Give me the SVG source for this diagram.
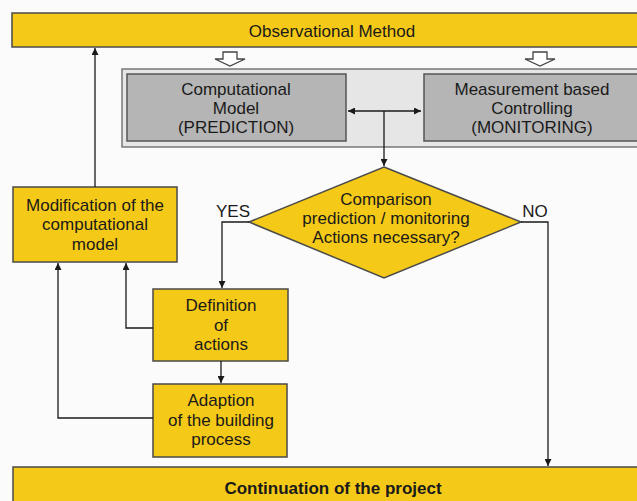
<svg xmlns="http://www.w3.org/2000/svg" width="637" height="501" viewBox="0 0 637 501">
<defs>
<style>
.y{fill:#f5c917;stroke:#4a4a4a;stroke-width:1.5}
.g{fill:#b5b5b5;stroke:#555;stroke-width:1.5}
.t{font-family:"Liberation Sans",Arial,sans-serif;font-size:17px;fill:#1a1a1a;text-anchor:middle}
.c{fill:none;stroke:#1a1a1a;stroke-width:1.3}
.h{fill:#fff;stroke:#444;stroke-width:1.3}
</style>
<marker id="a" viewBox="0 0 10 10" refX="10" refY="5" markerWidth="7" markerHeight="7" orient="auto-start-reverse" markerUnits="userSpaceOnUse">
<path d="M0,0 L10,5 L0,10 Z" fill="#1a1a1a"/>
</marker>
</defs>
<rect width="637" height="501" fill="#fbfbfb"/>
<g id="observational">
<rect class="y" x="12" y="13" width="630" height="34"/>
<text class="t" x="332" y="37">Observational Method</text>
</g>
<g id="hollow-arrows">
<path class="h" d="M223,52 H237 V59 H245 L230,66 L215,59 H223 Z"/>
<path class="h" d="M533,52 H547 V59 H555 L540,66 L525,59 H533 Z"/>
</g>
<g id="container">
<rect x="122" y="69" width="520" height="78" fill="#e6e6e6" stroke="#666" stroke-width="1.3"/>
</g>
<g id="computational">
<rect class="g" x="127" y="74" width="219" height="67"/>
<text class="t" x="236" y="95">Computational</text>
<text class="t" x="236" y="114">Model</text>
<text class="t" x="236" y="133">(PREDICTION)</text>
</g>
<g id="measurement">
<rect class="g" x="424" y="74" width="220" height="67"/>
<text class="t" x="532" y="95">Measurement based</text>
<text class="t" x="532" y="114">Controlling</text>
<text class="t" x="532" y="133">(MONITORING)</text>
</g>
<g id="comparison">
<polygon class="y" points="384,167 521,222 384,278 249,222"/>
<text class="t" x="386" y="205">Comparison</text>
<text class="t" x="386" y="224">prediction / monitoring</text>
<text class="t" x="386" y="243">Actions necessary?</text>
</g>
<g id="modification">
<rect class="y" x="13" y="187" width="164" height="75"/>
<text class="t" x="95" y="211">Modification of the</text>
<text class="t" x="95" y="230">computational</text>
<text class="t" x="95" y="250">model</text>
</g>
<g id="definition">
<rect class="y" x="153" y="289" width="135" height="72"/>
<text class="t" x="221" y="311">Definition</text>
<text class="t" x="221" y="331">of</text>
<text class="t" x="221" y="350">actions</text>
</g>
<g id="adaption">
<rect class="y" x="153" y="384" width="134" height="73"/>
<text class="t" x="221" y="406">Adaption</text>
<text class="t" x="221" y="426">of the building</text>
<text class="t" x="221" y="445">process</text>
</g>
<g id="continuation">
<rect class="y" x="13" y="467" width="630" height="40"/>
<text class="t" x="333" y="494" font-weight="bold">Continuation of the project</text>
</g>
<g id="connectors">
<path class="c" d="M348,111 H421" marker-start="url(#a)" marker-end="url(#a)"/>
<path class="c" d="M384,111 V166" marker-end="url(#a)"/>
<path class="c" d="M249,222 H222 V288" marker-end="url(#a)"/>
<path class="c" d="M521,222 H548 V466" marker-end="url(#a)"/>
<path class="c" d="M95,187 V48" marker-end="url(#a)"/>
<path class="c" d="M221,361 V383" marker-end="url(#a)"/>
<path class="c" d="M153,328 H126 V263" marker-end="url(#a)"/>
<path class="c" d="M153,418 H58 V263" marker-end="url(#a)"/>
</g>
<g id="labels">
<text class="t" x="233" y="217">YES</text>
<text class="t" x="535" y="217">NO</text>
</g>
</svg>
